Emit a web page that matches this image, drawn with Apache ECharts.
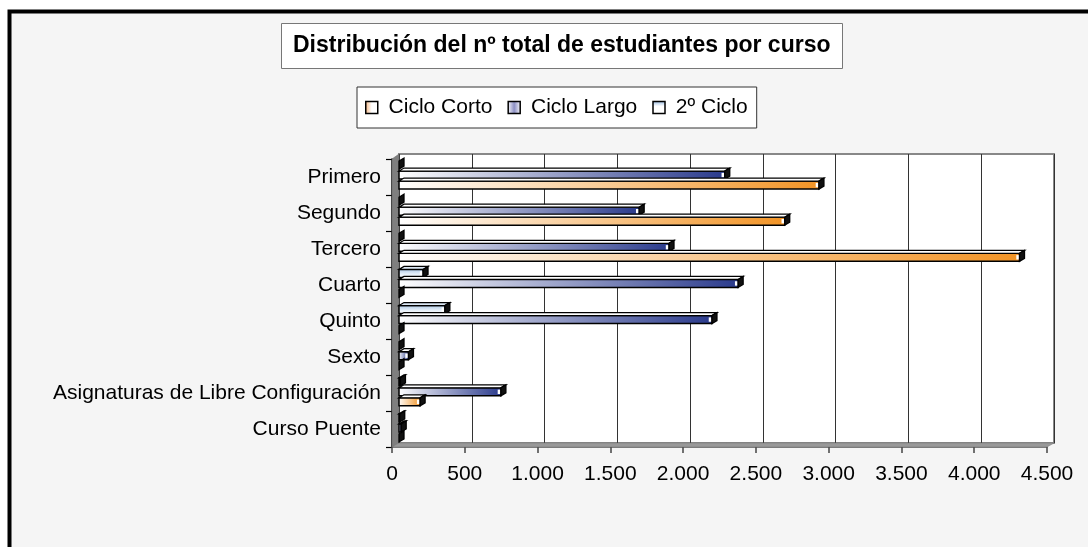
<!DOCTYPE html>
<html><head><meta charset="utf-8">
<script src="https://cdn.jsdelivr.net/npm/echarts@6/dist/echarts.min.js"></script>
<style>html,body{margin:0;padding:0;background:#fff}#c{width:1088px;height:547px}</style>
</head><body><div id="c"></div>
<script>
var categories = ['Primero', 'Segundo', 'Tercero', 'Cuarto', 'Quinto', 'Sexto', 'Asignaturas de Libre Configuración', 'Curso Puente'];
var seriesNames = ['Ciclo Corto', 'Ciclo Largo', '2º Ciclo'];
var cicloCorto   = [2885, 2650, 4263, 0, 0, 0, 145, 0];
var cicloLargo   = [2238, 1650, 1855, 2330, 2150, 65, 700, 15];
var segundoCiclo = [0, 0, 0, 165, 315, 0, 10, 5];
var axisMin = 0, axisMax = 4500, axisStep = 500;

var G = echarts.graphic;
var gCorto = new G.LinearGradient(0, 0, 1, 0, [{offset: 0, color: '#ffffff'}, {offset: 1, color: '#f29426'}]);
var gLargo = new G.LinearGradient(0, 0, 1, 0, [{offset: 0, color: '#ffffff'}, {offset: 1, color: '#2a3a8c'}]);
var g2 = new G.LinearGradient(0, 0, 0, 1, [{offset: 0, color: '#a9c6e6'}, {offset: 0.55, color: '#e4eef8'}, {offset: 1, color: '#ffffff'}]);
var lgCorto = new G.LinearGradient(0, 0, 1, 0, [{offset: 0, color: '#f5b27a'}, {offset: 0.5, color: '#ffffff'}, {offset: 1, color: '#ffffff'}]);
var lgLargo = new G.LinearGradient(0, 0, 1, 0, [{offset: 0, color: '#ffffff'}, {offset: 0.5, color: '#8c8fc4'}, {offset: 1, color: '#ffffff'}]);
var lg2 = new G.LinearGradient(0, 0, 0, 1, [{offset: 0, color: '#8fb4de'}, {offset: 0.4, color: '#ffffff'}, {offset: 1, color: '#ffffff'}]);

function bar3d(slot, frontFill, topFill) {
  return function (params, api) {
    var v = api.value(0), c = api.value(1);
    var p0 = api.coord([0, c]), p1 = api.coord([v, c]);
    var H = 8, DX = 5, DY = 3, PITCH = 10;
    var yc = p0[1] + 1.5 + (slot - 1) * PITCH;
    var yt = yc - (H - DY) / 2;
    var x0 = p0[0], x1 = p1[0];
    var ch = [];
    if (x1 - x0 > 0.5) {
      ch.push({type: 'rect', shape: {x: x0, y: yt, width: x1 - x0, height: H}, style: {fill: frontFill, stroke: '#000', lineWidth: 1.5}});
      ch.push({type: 'polygon', shape: {points: [[x0, yt], [x1, yt], [x1 + DX, yt - DY], [x0 + DX, yt - DY]]}, style: {fill: topFill, stroke: '#000', lineWidth: 1.3}});
      if (x1 - x0 > 5) {
        ch.push({type: 'rect', shape: {x: x1 - 3.2, y: yt + 1.8, width: 2.6, height: H - 3.6}, style: {fill: '#fff'}});
      }
    }
    ch.push({type: 'polygon', shape: {points: [[x1, yt], [x1 + DX, yt - DY], [x1 + DX, yt + H - DY], [x1, yt + H]]}, style: {fill: '#111', stroke: '#000', lineWidth: 1.3}});
    return {type: 'group', children: ch};
  };
}
function toData(arr) { return arr.map(function (v, i) { return [v, i]; }); }
function fmt(v) { return String(v).replace(/\B(?=(\d{3})+(?!\d))/g, '.'); }

// layout constants (back wall / front axis)
var BL = 399, BR = 1054, BT = 154, BB = 443;
var FL = 392, FR = 1047, FT = 159, FB = 447;
var W = 1088, Hh = 547;

var chart = echarts.init(document.getElementById('c'), null, {renderer: 'canvas'});
chart.setOption({
  backgroundColor: '#ffffff',
  animation: false,
  title: {
    text: 'Distribución del nº total de estudiantes por curso',
    left: 281, top: 23,
    padding: [11, 12, 11, 12],
    backgroundColor: '#ffffff', borderColor: '#777', borderWidth: 1,
    textStyle: {fontFamily: 'Liberation Sans', fontWeight: 'bold', fontSize: 23, lineHeight: 24, color: '#000'}
  },
  legend: {
    left: 357, top: 87,
    padding: [10, 9, 10, 8],
    backgroundColor: '#ffffff', borderColor: '#333', borderWidth: 1,
    itemWidth: 12, itemHeight: 12, itemGap: 15, icon: 'rect',
    formatter: function (n) { return ' ' + n; },
    textStyle: {fontFamily: 'Liberation Sans', fontSize: 21, lineHeight: 21, color: '#000'},
    data: [
      {name: seriesNames[0], itemStyle: {color: lgCorto, borderColor: '#000', borderWidth: 1.5}},
      {name: seriesNames[1], itemStyle: {color: lgLargo, borderColor: '#000', borderWidth: 1.5}},
      {name: seriesNames[2], itemStyle: {color: lg2, borderColor: '#000', borderWidth: 1.5}}
    ]
  },
  graphic: [
    {type: 'rect', z: -10, shape: {x: 9.5, y: 11.5, width: 1200, height: 700}, style: {fill: '#f5f5f5', stroke: '#000', lineWidth: 4}},
    {type: 'polygon', z: 1, shape: {points: [[FL, FT], [BL, BT], [BL, BB], [FL, FB]]}, style: {fill: '#7f7f7f', stroke: '#666', lineWidth: 0.5}},
    {type: 'polygon', z: 1, shape: {points: [[FL, FB], [BL, BB], [BR, BB], [FR, FB]]}, style: {fill: '#999999', stroke: '#777', lineWidth: 0.5}}
  ],
  grid: [
    {left: BL, right: W - BR, top: BT, bottom: Hh - BB, show: true, backgroundColor: '#ffffff', borderColor: '#888', borderWidth: 2},
    {left: FL, right: W - FR, top: FT, bottom: Hh - FB}
  ],
  xAxis: [
    {gridIndex: 0, type: 'value', min: axisMin, max: axisMax, interval: axisStep,
      axisLine: {show: false}, axisTick: {show: false}, axisLabel: {show: false},
      splitLine: {show: true, lineStyle: {color: '#333', width: 1}}},
    {gridIndex: 1, type: 'value', min: axisMin, max: axisMax, interval: axisStep,
      axisLine: {show: true, lineStyle: {color: '#555', width: 1.5}},
      axisTick: {show: true, length: 6, lineStyle: {color: '#444', width: 1.5}},
      splitLine: {show: false},
      axisLabel: {margin: 17, formatter: fmt, fontFamily: 'Liberation Sans', fontSize: 21, color: '#000'}}
  ],
  yAxis: [
    {gridIndex: 0, type: 'category', inverse: true, data: categories,
      axisLine: {show: false}, axisTick: {show: false}, axisLabel: {show: false}, splitLine: {show: false}},
    {gridIndex: 1, type: 'category', inverse: true, data: categories,
      axisLine: {show: true, lineStyle: {color: '#000', width: 1.5}},
      axisTick: {show: true, length: 6, lineStyle: {color: '#000', width: 1.2}},
      axisLabel: {margin: 11, fontFamily: 'Liberation Sans', fontSize: 21, color: '#000', padding: [3, 0, 0, 0]}}
  ],
  series: [
    {name: seriesNames[2], type: 'custom', xAxisIndex: 0, yAxisIndex: 0, z: 3, encode: {x: 0, y: 1},
      renderItem: bar3d(0, g2, '#dce8f5'), data: toData(segundoCiclo)},
    {name: seriesNames[1], type: 'custom', xAxisIndex: 0, yAxisIndex: 0, z: 4, encode: {x: 0, y: 1},
      renderItem: bar3d(1, gLargo, '#ffffff'), data: toData(cicloLargo)},
    {name: seriesNames[0], type: 'custom', xAxisIndex: 0, yAxisIndex: 0, z: 5, encode: {x: 0, y: 1},
      renderItem: bar3d(2, gCorto, '#ffffff'), data: toData(cicloCorto)}
  ]
});
</script></body></html>
